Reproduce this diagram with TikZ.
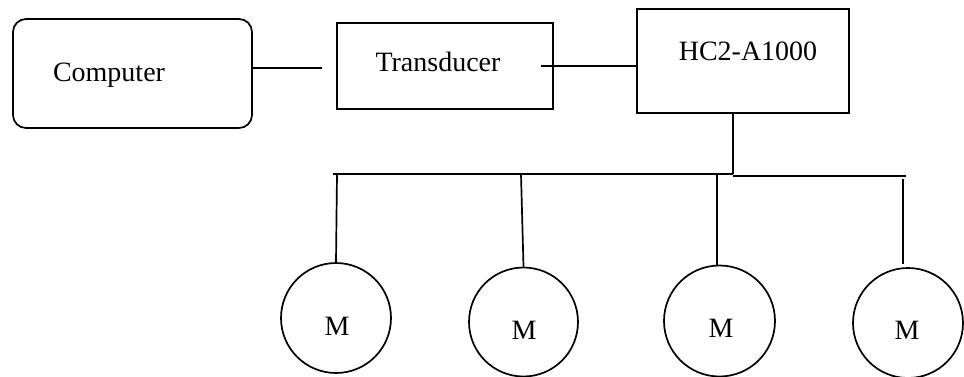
\documentclass[tikz,border=0pt]{standalone}
\usepackage{fontspec}
\setmainfont{Liberation Serif}
\begin{document}
\begin{tikzpicture}[x=1pt,y=-1pt,
  box/.style={draw,line width=1.7pt,inner sep=0pt},
  motor/.style={draw,circle,line width=1.7pt,inner sep=0pt},
  lbl/.style={font=\fontsize{28}{31}\selectfont,inner sep=0pt},
  wire/.style={line width=1.7pt}]
\useasboundingbox (0,0) rectangle (964,376);
% boxes
\node[box,rounded corners=13pt,minimum width=239pt,minimum height=109pt] (comp) at (132.5,73.5) {};
\node[lbl] (comptxt) at (109,75) {Computer};
\node[box,minimum width=216pt,minimum height=86pt] (trans) at (445,66) {};
\node[lbl] (transtxt) at (438,62) {Transducer};
\node[box,minimum width=212pt,minimum height=104pt] (hc) at (743,61) {};
\node[lbl] (hctxt) at (748,51) {HC2-A1000};
% motors
\node[motor,minimum size=110pt] (m1) at (336,318) {};
\node[motor,minimum size=109pt] (m2) at (523.5,322) {};
\node[motor,minimum size=111pt] (m3) at (719.5,321) {};
\node[motor,minimum size=110pt] (m4) at (908,323) {};
\node[lbl] (m1t) at (337,326) {M};
\node[lbl] (m2t) at (524,330) {M};
\node[lbl] (m3t) at (721,328) {M};
\node[lbl] (m4t) at (907,330) {M};
% coordinates
\coordinate (c1) at (322,68);
\coordinate (c2) at (541,66);
\coordinate (bj) at (733,174);
\coordinate (bjr) at (733,176);
\coordinate (bl) at (333,174);
\coordinate (br) at (906,176);
\coordinate (d1) at (337,174);
\coordinate (d2) at (521,174);
\coordinate (d3) at (717,174);
\coordinate (d4t) at (903,179);
\coordinate (d4b) at (903,264);
% connectors
\draw[wire] (comp.east |- c1) -- (c1);
\draw[wire] (c2) -- (c2 -| hc.west);
\draw[wire] (hc.south -| bj) -- (bj);
\draw[wire] (bl) -- (bj);
\draw[wire] (bjr) -- (br);
\draw[wire] (d1) -- (m1.north);
\draw[wire] (d2) -- (m2.north);
\draw[wire] (d3) -- (d3 |- m3.north);
\draw[wire] (d4t) -- (d4b);
\end{tikzpicture}
\end{document}
